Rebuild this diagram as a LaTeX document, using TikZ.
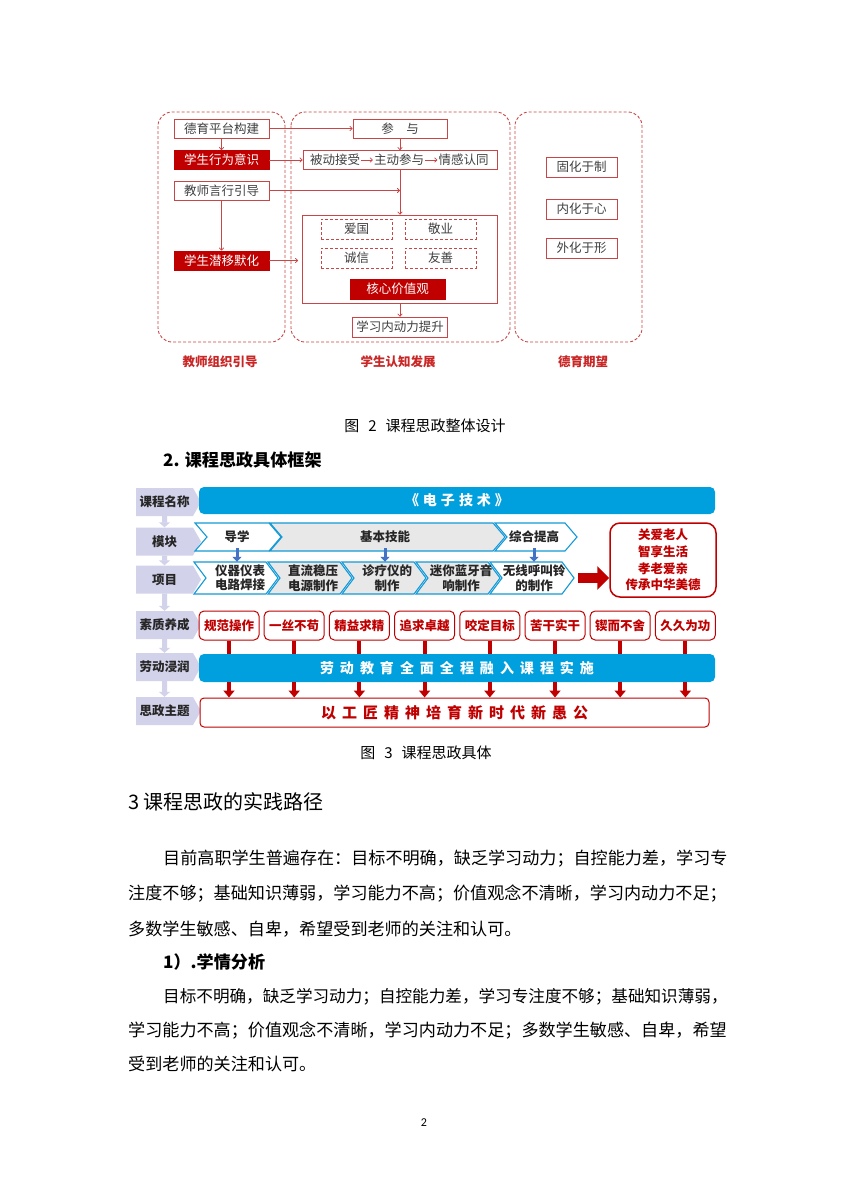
\documentclass[tikz,border=0pt]{standalone}
\usepackage{fontspec}
\setmainfont{Noto Sans CJK SC}
\newfontfamily\pagenumfont{Carlito}
\usepackage{xcolor}
\definecolor{dyred}{RGB}{192,0,0}
\definecolor{dyline}{RGB}{200,70,70}
\definecolor{dytext}{RGB}{64,64,64}
\definecolor{kcblue}{RGB}{0,160,222}
\definecolor{kcedge}{RGB}{20,155,215}
\definecolor{kcgray}{RGB}{232,232,232}
\definecolor{kcnavy}{RGB}{68,114,196}
\definecolor{kclav}{RGB}{210,210,234}
\usetikzlibrary{arrows.meta, positioning, shapes.symbols, calc}

\newcommand{\wsp}[1][6pt]{\hspace{#1}}
\newcommand{\kcchevron}[5]{%
  \draw[kcchev, fill=#5] (#1,#3) -- ({#2-12},#3) -- (#2,{(#3+#4)/2}) --
    ({#2-12},#4) -- (#1,#4) -- ({#1+12},{(#3+#4)/2}) -- cycle;}

\begin{document}
\begin{tikzpicture}[x=1pt, y=-1pt,
  dypanel/.style={draw=dyline, dash pattern=on 3pt off 2pt, line width=0.9pt, rounded corners=14pt},
  dybox/.style={draw=dyline, fill=white, line width=0.8pt, text=dytext, inner sep=0pt,
    minimum width=95, minimum height=19, font=\fontsize{12.5}{14}\selectfont},
  dyfill/.style={dybox, fill=dyred, draw=dyred, text=white},
  dydash/.style={dybox, dash pattern=on 3pt off 2pt, minimum width=71, minimum height=20},
  dyarrow/.style={draw=dyline, line width=0.8pt, -{To[length=3pt,width=5pt]}},
  dylabel/.style={text=dyred!85, font=\fontsize{12.5}{14}\selectfont\bfseries},
  kclabel/.style={signal, signal to=east, signal pointer angle=120, fill=kclav,
    minimum width=65, minimum height=28, inner sep=0pt, text=black!85,
    font=\fontsize{12.5}{14}\selectfont\bfseries},
  kclabarrow/.style={draw=kclav, line width=5pt, -{Triangle[length=5pt,width=11pt]}},
  kcbar/.style={fill=kcblue, rounded corners=5pt, minimum width=516, minimum height=27,
    inner sep=0pt, text=white, font=\fontsize{14}{16}\selectfont\bfseries},
  kcchev/.style={draw=kcedge, line width=1.1pt},
  kctext/.style={inner sep=0pt, align=center, text=black!85,
    font=\fontsize{12.5}{14.5}\selectfont\bfseries},
  kcnavarrow/.style={draw=kcnavy, line width=3pt, -{Triangle[length=5pt,width=9pt]}},
  kcquality/.style={draw=dyred, fill=white, line width=1pt, rounded corners=5pt,
    minimum width=60, minimum height=29, inner sep=0pt, text=dyred,
    font=\fontsize{12.5}{14}\selectfont\bfseries},
  kcstem/.style={draw=dyred, line width=4pt},
  kcdrop/.style={draw=dyred, line width=4pt, -{Triangle[length=7pt,width=11pt]}},
  kcbig/.style={draw=dyred, line width=10pt, -{Triangle[length=12pt,width=23pt]}},
  bodyline/.style={anchor=west, inner sep=0pt, text=black, font=\fontsize{17.1}{20}\selectfont}]

  % Page
  \fill[white] (0,0) rectangle (849,1202);
  \useasboundingbox (0,0) rectangle (849,1202);

  % Panel borders
  \draw[dypanel] (158,112) rectangle (285,342);
  \draw[dypanel] (291,112) rectangle (510,342);
  \draw[dypanel] (515,112) rectangle (642,342);

  % --- Panel 1: teacher guidance ---
  \node[dybox]  (ptgj) at (221.5,128.5) {德育平台构建};
  \node[dyfill] (xwys) at (221.5,160)   {学生行为意识};
  \node[dybox]  (yxyd) at (221.5,190.5) {教师言行引导};
  \node[dyfill] (qymh) at (221.5,260.5) {学生潜移默化};
  \node[dylabel] (jszz) at (220,362) {教师组织引导};

  % --- Panel 2: student growth ---
  \node[dybox, minimum width=94]  (canyu)   at (400,128.5) {参\hspace{1em}与};
  \node[dybox, minimum width=194] (jieshou) at (400,160) {};
  \node[inner sep=1pt, text=dytext, font=\fontsize{12.5}{14}\selectfont] (bdjs) at (335,160) {被动接受};
  \node[inner sep=1pt, text=dytext, font=\fontsize{12.5}{14}\selectfont] (zdcy) at (399,160) {主动参与};
  \node[inner sep=1pt, text=dytext, font=\fontsize{12.5}{14}\selectfont] (qgrt) at (463.5,160) {情感认同};
  \node[dybox, minimum width=195, minimum height=88] (hexin) at (400,259) {};
  \node[dydash] (aiguo)    at (356.5,229) {爱国};
  \node[dydash] (jingye)   at (440.5,229) {敬业};
  \node[dydash] (chengxin) at (356.5,258) {诚信};
  \node[dydash] (youshan)  at (440.5,258) {友善};
  \node[dyfill, minimum height=20] (hxjz)    at (397.5,289) {核心价值观};
  \node[dybox, minimum height=20]  (tisheng) at (400,327)   {学习内动力提升};
  \node[dylabel] (rzfz) at (398,362) {学生认知发展};

  % --- Panel 3: moral goals ---
  \node[dybox, minimum width=71, minimum height=20] (yuzhi)  at (581.5,167) {固化于制};
  \node[dybox, minimum width=71, minimum height=20] (yuxin)  at (581.5,209) {内化于心};
  \node[dybox, minimum width=71, minimum height=20] (yuxing) at (581.5,248) {外化于形};
  \node[dylabel] (dyqw) at (583,362) {德育期望};

  % Connectors
  \draw[dyarrow] (ptgj) -- (xwys);
  \draw[dyarrow] (yxyd) -- (qymh);
  \draw[dyarrow] (ptgj) -- (canyu);
  \draw[dyarrow] (xwys) -- (jieshou);
  \coordinate (huiru) at (jieshou.south |- yxyd.east);
  \draw[dyarrow] (yxyd) -- (huiru);
  \draw[dyarrow, shorten >=4pt] (qymh) -- (qymh -| hexin.west);
  \draw[dyarrow] (canyu) -- (jieshou);
  \draw[dyarrow] (bdjs) -- (zdcy);
  \draw[dyarrow] (zdcy) -- (qgrt);
  \draw[dyarrow] (jieshou) -- (hexin);
  \draw[dyarrow] (hexin) -- (tisheng);

  % Caption and heading
  \node[font=\fontsize{15}{16}\selectfont] (cap2) at (425,426) {图\hspace{0.6em}2\hspace{0.6em}课程思政整体设计};
  \node[bodyline, font=\fontsize{17.1}{20}\selectfont\bfseries] (sec2) at (163,460) {2. 课程思政具体框架};

  % --- Framework: row labels ---
  \node[kclabel] (kcmc)    at (164.5,502)   {课程名称};
  \node[kclabel] (mokuai)  at (164.5,541.5) {模块};
  \node[kclabel] (xiangmu) at (164.5,579.5) {项目};
  \node[kclabel] (suzhi)   at (164.5,625)   {素质养成};
  \node[kclabel] (laodong) at (164.5,667)   {劳动浸润};
  \node[kclabel] (sizheng) at (164.5,711)   {思政主题};
  \foreach \a/\b in {kcmc/mokuai, mokuai/xiangmu, xiangmu/suzhi, suzhi/laodong, laodong/sizheng}
    \draw[kclabarrow] (\a) -- (\b);

  % Course name
  \node[kcbar] (kcname) at (457,500.5) {《\wsp[4pt]电\wsp[4pt]子\wsp[4pt]技\wsp[4pt]术\wsp[4pt]》};

  % Modules
  \kcchevron{195}{281}{523}{551}{white}
  \kcchevron{270}{505}{523}{551}{kcgray}
  \kcchevron{495}{577}{523}{551}{white}
  \node[kctext, minimum height=28] (daoxue) at (237,537) {导学};
  \node[kctext, minimum height=28] (jbjn)   at (385,537) {基本技能};
  \node[kctext, minimum height=28] (zhtg)   at (534,537) {综合提高};

  % Projects
  \kcchevron{194}{278}{562}{594}{white}
  \kcchevron{268}{352}{562}{594}{kcgray}
  \kcchevron{342}{426}{562}{594}{kcgray}
  \kcchevron{416}{500}{562}{594}{kcgray}
  \kcchevron{490}{574}{562}{594}{white}
  \node[kctext, minimum height=32] (yiqi)     at (240,578) {仪器仪表\\电路焊接};
  \node[kctext, minimum height=32] (zhiliu)   at (313,578) {直流稳压\\电源制作};
  \node[kctext, minimum height=32] (zhenliao) at (387,578) {诊疗仪的\\制作};
  \node[kctext, minimum height=32] (lanya)    at (461,578) {迷你蓝牙音\\响制作};
  \node[kctext, minimum height=32] (hujiao)   at (534,578) {无线呼叫铃\\的制作};
  \draw[kcnavarrow, shorten <=-3pt] (daoxue.south) -- (daoxue.south |- yiqi.north);
  \draw[kcnavarrow, shorten <=-3pt] (jbjn.south) -- (jbjn.south |- zhenliao.north);
  \draw[kcnavarrow, shorten <=-3pt] (zhtg.south) -- (zhtg.south |- hujiao.north);

  % Elder care box
  \node[draw=dyred, line width=1.5pt, rounded corners=10pt, minimum width=106, minimum height=74,
    inner sep=0pt, text=dyred, align=center, font=\fontsize{12.5}{16.7}\selectfont\bfseries]
    (laoren) at (663,560) {关爱老人\\智享生活\\孝老爱亲\\传承中华美德};
  \coordinate (xmjt) at (578,578);
  \draw[kcbig] (xmjt) -- (xmjt -| laoren.west);

  % Qualities
  \foreach \i/\txt in {1/规范操作, 2/一丝不苟, 3/精益求精, 4/追求卓越,
                       5/咬定目标, 6/苦干实干, 7/锲而不舍, 8/久久为功}
    \node[kcquality] (q\i) at ({229+65.2*(\i-1)},625.5) {\txt};

  % Labour bar and theme
  \node[kcbar, minimum height=28] (ldbar) at (457,668)
    {劳\wsp 动\wsp 教\wsp 育\wsp 全\wsp 面\wsp 全\wsp 程\wsp 融\wsp 入\wsp 课\wsp 程\wsp 实\wsp 施};
  \node[draw=dyred, fill=white, line width=1pt, rounded corners=4pt, minimum width=509,
    minimum height=29, inner sep=0pt, text=dyred, font=\fontsize{15}{16}\selectfont\bfseries]
    (ztbar) at (454.5,712.5)
    {以\wsp 工\wsp 匠\wsp 精\wsp 神\wsp 培\wsp 育\wsp 新\wsp 时\wsp 代\wsp 新\wsp 愚\wsp 公};
  \foreach \i in {1,...,8} {
    \draw[kcstem] (q\i.south) -- (q\i.south |- ldbar.north);
    \draw[kcdrop] (q\i.south |- ldbar.south) -- (q\i.south |- ztbar.north);
  }

  \node[font=\fontsize{15}{16}\selectfont] (cap3) at (426,753) {图\hspace{0.6em}3\hspace{0.6em}课程思政具体};

  % --- Body text ---
  \node[bodyline, font=\fontsize{20}{22}\selectfont] (sec3) at (128,802) {3 课程思政的实践路径};
  \node[bodyline] (p1a) at (163,859) {目前高职学生普遍存在：目标不明确，缺乏学习动力；自控能力差，学习专};
  \node[bodyline] (p1b) at (128,894) {注度不够；基础知识薄弱，学习能力不高；价值观念不清晰，学习内动力不足；};
  \node[bodyline] (p1c) at (128,929) {多数学生敏感、自卑，希望受到老师的关注和认可。};
  \node[bodyline, font=\fontsize{17.1}{20}\selectfont\bfseries] (sub1) at (163,962) {1）.学情分析};
  \node[bodyline, font=\fontsize{16.6}{20}\selectfont] (p2a) at (163,997) {目标不明确，缺乏学习动力；自控能力差，学习专注度不够；基础知识薄弱，};
  \node[bodyline] (p2b) at (128,1031) {学习能力不高；价值观念不清晰，学习内动力不足；多数学生敏感、自卑，希望};
  \node[bodyline] (p2c) at (128,1064) {受到老师的关注和认可。};
  \node[font=\pagenumfont\fontsize{12}{14}\selectfont] (pgno) at (424,1123) {2};
\end{tikzpicture}
\end{document}
